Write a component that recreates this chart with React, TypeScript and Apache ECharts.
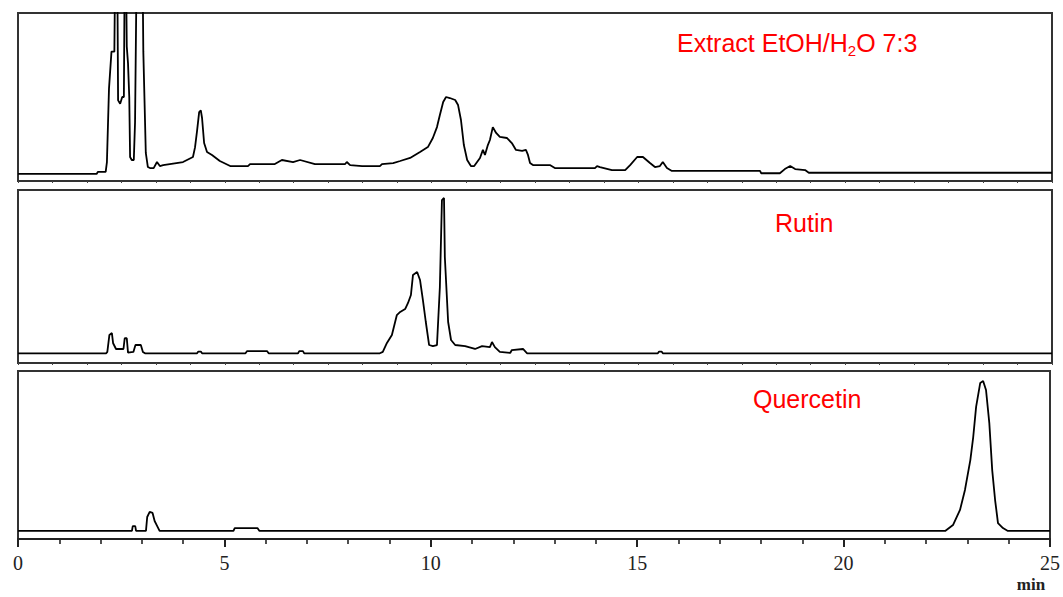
import React, { useEffect, useRef } from "react";
import * as echarts from "echarts";

// Retention time (min) and detector signal (relative units, 0–100 of panel height)
const extractTime = [0, 1.9, 1.93, 2.12, 2.15, 2.2, 2.26, 2.33, 2.35, 2.4, 2.42, 2.47, 2.52, 2.56, 2.58, 2.61, 2.63, 2.66, 2.69, 2.71, 2.75, 2.8, 2.83, 2.87, 3.01, 3.03, 3.09, 3.14, 3.19, 3.28, 3.36, 3.43, 3.51, 3.99, 4.23, 4.28, 4.33, 4.38, 4.42, 4.45, 4.5, 4.57, 4.69, 4.88, 5.13, 5.56, 5.61, 6.21, 6.38, 6.65, 6.82, 7.18, 7.91, 7.95, 8.03, 8.32, 8.75, 8.8, 9.07, 9.24, 9.48, 9.72, 9.91, 10.03, 10.13, 10.2, 10.28, 10.35, 10.44, 10.57, 10.64, 10.71, 10.78, 10.86, 10.95, 11.03, 11.17, 11.24, 11.29, 11.36, 11.41, 11.48, 11.56, 11.65, 11.82, 11.94, 12.04, 12.19, 12.28, 12.33, 12.38, 12.45, 12.86, 12.98, 13.95, 14.0, 14.07, 14.36, 14.68, 14.8, 14.97, 15.11, 15.28, 15.4, 15.52, 15.59, 15.69, 15.81, 17.94, 17.97, 18.42, 18.54, 18.67, 18.79, 19.03, 19.12, 25];
const extractSignal = [4.2, 4.2, 5.4, 5.4, 11.3, 55, 77, 77, 130, 130, 48, 46, 50, 50, 130, 130, 80, 70, 50, 14.3, 12.5, 12.5, 35, 130, 130, 77, 16.7, 8.3, 7.7, 7.7, 11.3, 8.9, 9.5, 11.3, 14.3, 20, 30, 41, 42, 37.5, 22.6, 17.3, 15.5, 11.9, 8.9, 8.9, 10.1, 10.1, 12.5, 11.3, 12.5, 10.1, 10.1, 11.3, 9.5, 8.9, 8.9, 10.1, 10.7, 11.9, 13.7, 17.3, 20.2, 25.6, 32.1, 39.3, 47, 50, 49.4, 48.2, 45.2, 36.3, 21.4, 12.5, 8.9, 8.9, 13.7, 18.5, 15.5, 21.4, 24.4, 32.1, 28.6, 26.2, 25.6, 22.6, 18.5, 17.9, 18.5, 15.5, 10.7, 9.5, 9.5, 7.7, 7.7, 8.9, 8.3, 6.5, 6.5, 9.5, 14.3, 14.3, 10.7, 8.3, 8.9, 11.3, 7.7, 6.0, 6.0, 4.6, 4.6, 7.1, 8.9, 7.1, 6.5, 4.9, 4.9];

const rutinTime = [0, 2.13, 2.16, 2.21, 2.27, 2.3, 2.37, 2.55, 2.58, 2.63, 2.66, 2.79, 2.84, 2.97, 3.02, 3.07, 4.33, 4.36, 4.42, 4.45, 5.5, 5.54, 6.02, 6.06, 6.77, 6.8, 6.89, 6.92, 8.75, 8.82, 8.92, 9.04, 9.16, 9.24, 9.36, 9.43, 9.5, 9.55, 9.65, 9.72, 9.79, 9.86, 9.94, 10.03, 10.13, 10.2, 10.25, 10.3, 10.32, 10.4, 10.47, 10.57, 10.81, 11.05, 11.22, 11.41, 11.46, 11.53, 11.65, 11.9, 11.94, 12.21, 12.31, 15.47, 15.5, 15.56, 15.59, 25];
const rutinSignal = [5.6, 5.6, 6.4, 16.2, 17.3, 11.4, 8.1, 8.1, 14.3, 14.3, 6.0, 6.4, 10.4, 10.4, 6.4, 5.6, 5.6, 6.6, 6.6, 5.6, 5.6, 6.9, 6.9, 5.6, 5.6, 6.9, 6.9, 5.6, 5.6, 6.4, 11.6, 16.2, 27.7, 29.5, 31.2, 34.7, 39.3, 50.9, 52.6, 48, 36.4, 23.7, 10.4, 9.8, 10.4, 43.9, 94.2, 95.4, 61.3, 23.7, 13.3, 10.4, 9.8, 8.1, 9.8, 9.2, 12.1, 9.2, 6.4, 5.8, 7.5, 8.1, 5.6, 5.6, 6.6, 6.6, 5.6, 5.6];

const quercetinTime = [0, 2.76, 2.78, 2.84, 2.86, 3.1, 3.13, 3.19, 3.26, 3.31, 3.36, 3.43, 5.22, 5.25, 5.8, 5.85, 22.46, 22.65, 22.82, 22.94, 23.07, 23.14, 23.21, 23.31, 23.38, 23.45, 23.53, 23.6, 23.67, 23.74, 23.86, 23.98, 25];
const quercetinSignal = [4.8, 4.8, 7.7, 7.7, 4.8, 4.8, 13.1, 16.1, 15.5, 10.7, 8.3, 4.8, 4.8, 6.5, 6.5, 4.8, 4.8, 8.3, 17.3, 29.2, 47, 60.7, 78.6, 92.9, 94, 88.7, 69, 41, 23.2, 9.5, 6.5, 4.8, 4.8];

const timeTicks = [0, 5, 10, 15, 20, 25];
const panelLabels = ["Rutin", "Quercetin"];

const zip = (t: number[], v: number[]) => t.map((x, i) => [x, v[i]]);

export default function App() {
  const ref = useRef<HTMLDivElement>(null);

  useEffect(() => {
    if (!ref.current) return;
    const chart = echarts.init(ref.current, null, { renderer: "svg" });

    const gridBase = {
      show: true,
      borderColor: "#333",
      borderWidth: 2,
      backgroundColor: "transparent",
      left: 18,
      right: 11,
    };

    const topAxis = (gridIndex: number) => ({
      gridIndex,
      type: "value",
      min: timeTicks[0],
      max: timeTicks[timeTicks.length - 1],
      interval: 5,
      axisLine: { show: false },
      axisTick: { show: true, length: 2, lineStyle: { color: "#444", width: 1 } },
      minorTick: { show: true, splitNumber: 6, length: 2, lineStyle: { color: "#444", width: 1 } },
      axisLabel: { show: false },
      splitLine: { show: false },
    });

    const lineSeries = (idx: number, data: number[][]) => ({
      type: "line",
      xAxisIndex: idx,
      yAxisIndex: idx,
      data,
      showSymbol: false,
      clip: true,
      lineStyle: { color: "#000", width: 1.8 },
      emphasis: { disabled: true },
    });

    chart.setOption({
      animation: false,
      backgroundColor: "#fff",
      grid: [
        { ...gridBase, top: 13, height: 168 },
        { ...gridBase, top: 190, height: 173 },
        { ...gridBase, top: 371, height: 168 },
      ],
      xAxis: [
        topAxis(0),
        topAxis(1),
        {
          gridIndex: 2,
          type: "value",
          min: timeTicks[0],
          max: timeTicks[timeTicks.length - 1],
          interval: 5,
          axisLine: { show: true, onZero: false, lineStyle: { color: "#222", width: 2 } },
          axisTick: { show: true, length: 8, lineStyle: { color: "#222", width: 2 } },
          minorTick: { show: true, splitNumber: 5, length: 5, lineStyle: { color: "#222", width: 1.6 } },
          axisLabel: {
            fontFamily: "Liberation Serif",
            fontSize: 20,
            color: "#222",
            margin: 14,
          },
          splitLine: { show: false },
        },
      ],
      yAxis: [0, 1, 2].map((i) => ({
        gridIndex: i,
        type: "value",
        min: 0,
        max: 100,
        show: false,
        splitLine: { show: false },
      })),
      series: [
        lineSeries(0, zip(extractTime, extractSignal)),
        lineSeries(1, zip(rutinTime, rutinSignal)),
        lineSeries(2, zip(quercetinTime, quercetinSignal)),
      ],
      graphic: [
        {
          type: "text",
          x: 677,
          y: 28,
          style: {
            text: "{m|Extract EtOH/H}{s|2}{m|O 7:3}",
            rich: {
              m: { fontSize: 25, lineHeight: 30, fontFamily: "Liberation Sans", fill: "#ff0000" },
              s: { fontSize: 15, lineHeight: 13, verticalAlign: "bottom", fontFamily: "Liberation Sans", fill: "#ff0000" },
            },
          },
        },
        {
          type: "text",
          x: 775,
          y: 208,
          style: {
            text: panelLabels[0],
            fontSize: 25,
            lineHeight: 30,
            fontFamily: "Liberation Sans",
            fill: "#ff0000",
          },
        },
        {
          type: "text",
          x: 753,
          y: 384,
          style: {
            text: panelLabels[1],
            fontSize: 25,
            lineHeight: 30,
            fontFamily: "Liberation Sans",
            fill: "#ff0000",
          },
        },
        {
          type: "text",
          x: 1031,
          y: 576,
          style: {
            text: "min",
            fontSize: 17,
            fontWeight: "bold",
            fontFamily: "Liberation Serif",
            fill: "#222",
            align: "center",
          },
        },
      ],
    });

    return () => chart.dispose();
  }, []);

  return (
    <div
      ref={ref}
      style={{ position: "fixed", left: 0, top: 0, width: 1063, height: 597, background: "#fff" }}
    />
  );
}
